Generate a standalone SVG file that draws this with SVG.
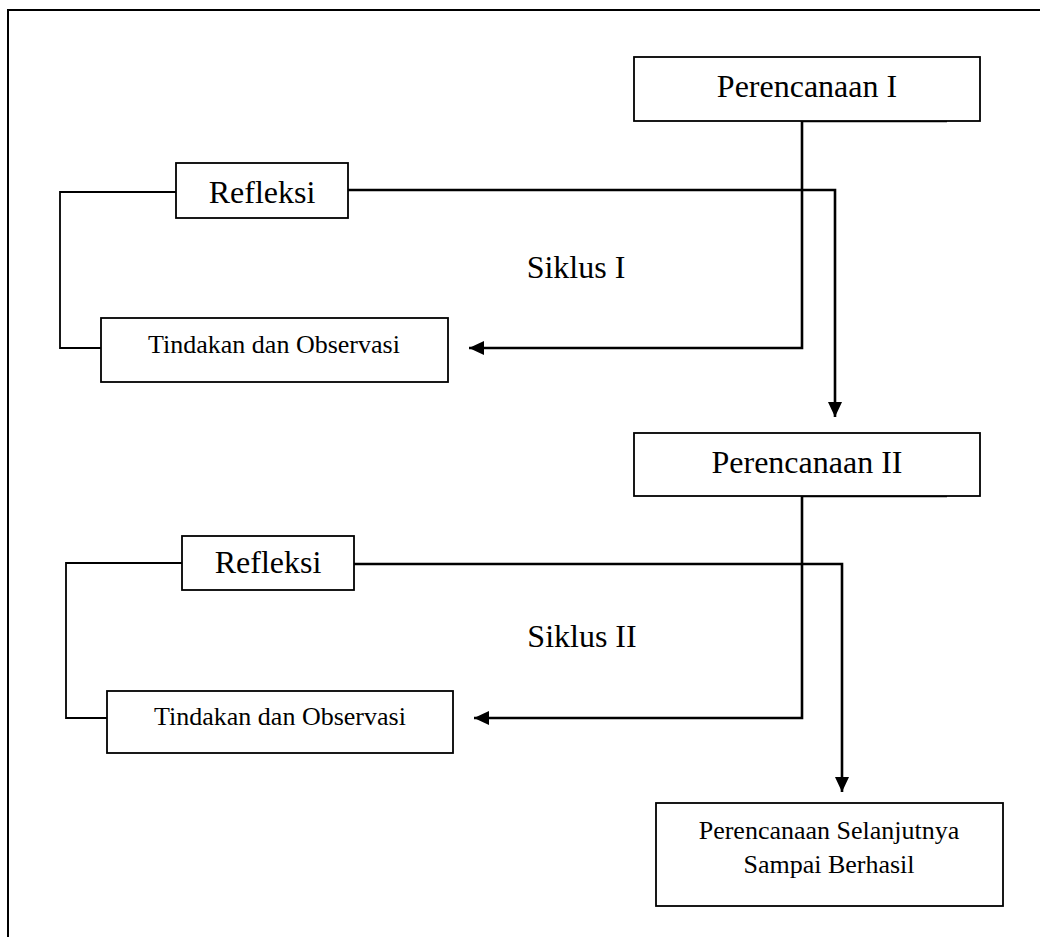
<svg xmlns="http://www.w3.org/2000/svg" width="1040" height="937" viewBox="0 0 1040 937">
<style>
.box{fill:#fff;stroke:#000;stroke-width:1.8}
.big{font-family:"Liberation Serif","Times New Roman",serif;font-size:32px;fill:#000;text-anchor:middle}
.small{font-family:"Liberation Serif","Times New Roman",serif;font-size:26px;fill:#000;text-anchor:middle}
.con{fill:none;stroke:#000;stroke-width:2.6}
</style>
<defs>
<marker id="arr" markerWidth="16" markerHeight="14" refX="15" refY="7" orient="auto" markerUnits="userSpaceOnUse">
<path d="M0,0 L15,7 L0,14 Z" fill="#000"/>
</marker>
</defs>
<rect x="0" y="0" width="1040" height="937" fill="#fff"/>
<path d="M8,937 V10 H1040" fill="none" stroke="#000" stroke-width="2"/>
<g id="connectors">
<path class="con" d="M947,121 H802 V348 H469" marker-end="url(#arr)"/>
<path class="con" d="M348,190 H835 V417" marker-end="url(#arr)"/>
<path class="con" d="M176,192 H60 V348 H101" style="stroke-width:1.8"/>
<path class="con" d="M947,496 H802 V718 H474" marker-end="url(#arr)"/>
<path class="con" d="M354,564 H842 V792" marker-end="url(#arr)"/>
<path class="con" d="M182,563 H66 V718 H107" style="stroke-width:1.8"/>
</g>
<g id="perencanaan1">
<rect class="box" x="634" y="57" width="346" height="64"/>
<text class="big" x="807" y="97">Perencanaan I</text>
</g>
<g id="refleksi1">
<rect class="box" x="176" y="163" width="172" height="55"/>
<text class="big" x="262" y="203">Refleksi</text>
</g>
<g id="siklus1">
<text class="big" x="576" y="278">Siklus I</text>
</g>
<g id="tindakan1">
<rect class="box" x="101" y="318" width="347" height="64"/>
<text class="small" x="274" y="353">Tindakan dan Observasi</text>
</g>
<g id="perencanaan2">
<rect class="box" x="634" y="433" width="346" height="63"/>
<text class="big" x="807" y="473">Perencanaan II</text>
</g>
<g id="refleksi2">
<rect class="box" x="182" y="536" width="172" height="54"/>
<text class="big" x="268" y="573">Refleksi</text>
</g>
<g id="siklus2">
<text class="big" x="582" y="647">Siklus II</text>
</g>
<g id="tindakan2">
<rect class="box" x="107" y="691" width="346" height="62"/>
<text class="small" x="280" y="725">Tindakan dan Observasi</text>
</g>
<g id="selanjutnya">
<rect class="box" x="656" y="803" width="347" height="103"/>
<text class="small" x="829" y="839">Perencanaan Selanjutnya</text>
<text class="small" x="829" y="873">Sampai Berhasil</text>
</g>
</svg>
